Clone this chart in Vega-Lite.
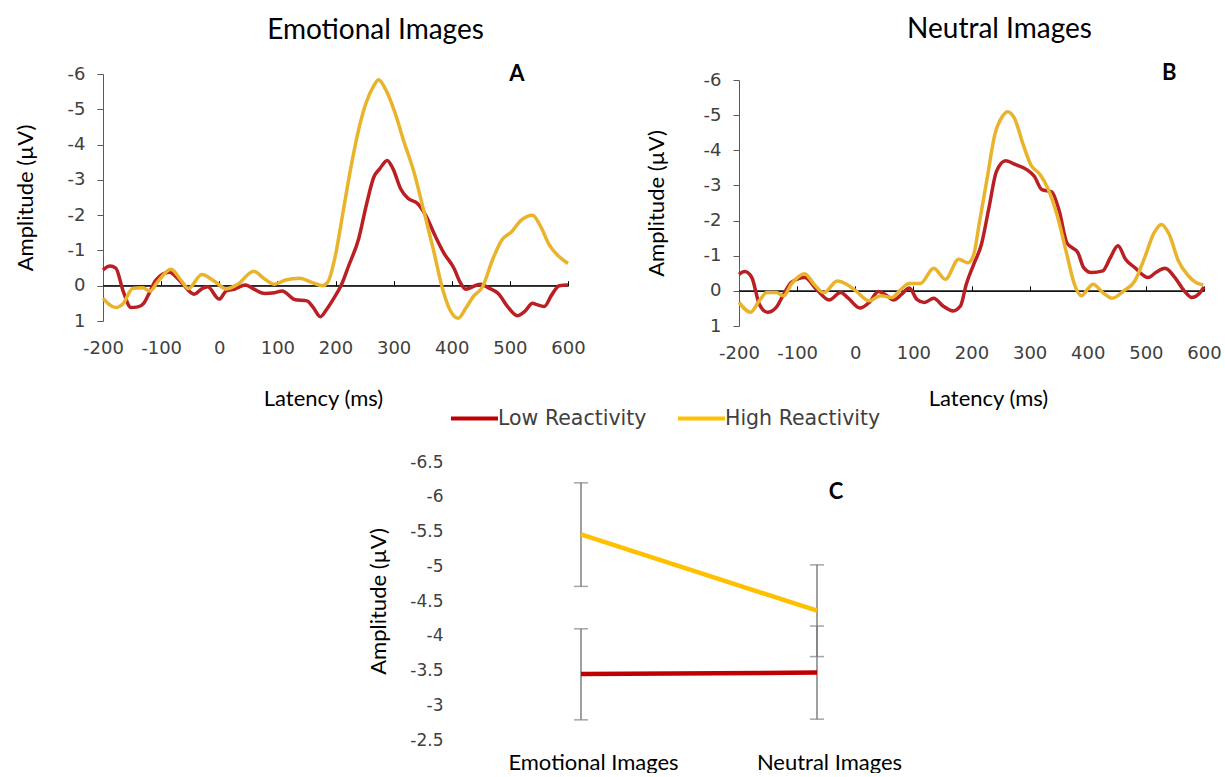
{
"$schema": "https://vega.github.io/schema/vega-lite/v6.json",
"background": "white",
"padding": {"left": 13, "top": 15, "right": 0, "bottom": 0},
"config": {"view": {"stroke": null}, "title": {"font": "Lato", "fontSize": 28, "fontWeight": "normal", "color": "#000000"}},
"datasets": {
"erp": [
{"p":"A","g":"Low Reactivity","t":-200,"v":-0.45},{"p":"A","g":"Low Reactivity","t":-188,"v":-0.56},{"p":"A","g":"Low Reactivity","t":-178,"v":-0.5},{"p":"A","g":"Low Reactivity","t":-165,"v":0.17},{"p":"A","g":"Low Reactivity","t":-152,"v":0.62},{"p":"A","g":"Low Reactivity","t":-140,"v":0.6},{"p":"A","g":"Low Reactivity","t":-130,"v":0.5},{"p":"A","g":"Low Reactivity","t":-122,"v":0.26},{"p":"A","g":"Low Reactivity","t":-109,"v":-0.16},{"p":"A","g":"Low Reactivity","t":-86,"v":-0.38},{"p":"A","g":"Low Reactivity","t":-66,"v":-0.11},{"p":"A","g":"Low Reactivity","t":-43,"v":0.24},{"p":"A","g":"Low Reactivity","t":-30,"v":0.09},{"p":"A","g":"Low Reactivity","t":-20,"v":0.03},{"p":"A","g":"Low Reactivity","t":0,"v":0.38},{"p":"A","g":"Low Reactivity","t":12,"v":0.15},{"p":"A","g":"Low Reactivity","t":26,"v":0.1},{"p":"A","g":"Low Reactivity","t":45,"v":-0.02},{"p":"A","g":"Low Reactivity","t":58,"v":0.08},{"p":"A","g":"Low Reactivity","t":78,"v":0.22},{"p":"A","g":"Low Reactivity","t":95,"v":0.2},{"p":"A","g":"Low Reactivity","t":108,"v":0.15},{"p":"A","g":"Low Reactivity","t":131,"v":0.4},{"p":"A","g":"Low Reactivity","t":151,"v":0.43},{"p":"A","g":"Low Reactivity","t":161,"v":0.6},{"p":"A","g":"Low Reactivity","t":174,"v":0.88},{"p":"A","g":"Low Reactivity","t":184,"v":0.69},{"p":"A","g":"Low Reactivity","t":197,"v":0.36},{"p":"A","g":"Low Reactivity","t":210,"v":-0.02},{"p":"A","g":"Low Reactivity","t":223,"v":-0.58},{"p":"A","g":"Low Reactivity","t":240,"v":-1.34},{"p":"A","g":"Low Reactivity","t":253,"v":-2.28},{"p":"A","g":"Low Reactivity","t":266,"v":-3.08},{"p":"A","g":"Low Reactivity","t":276,"v":-3.31},{"p":"A","g":"Low Reactivity","t":289,"v":-3.55},{"p":"A","g":"Low Reactivity","t":299,"v":-3.31},{"p":"A","g":"Low Reactivity","t":312,"v":-2.75},{"p":"A","g":"Low Reactivity","t":325,"v":-2.47},{"p":"A","g":"Low Reactivity","t":341,"v":-2.33},{"p":"A","g":"Low Reactivity","t":355,"v":-2.0},{"p":"A","g":"Low Reactivity","t":371,"v":-1.43},{"p":"A","g":"Low Reactivity","t":387,"v":-0.91},{"p":"A","g":"Low Reactivity","t":404,"v":-0.49},{"p":"A","g":"Low Reactivity","t":414,"v":-0.11},{"p":"A","g":"Low Reactivity","t":424,"v":0.1},{"p":"A","g":"Low Reactivity","t":440,"v":0.0},{"p":"A","g":"Low Reactivity","t":450,"v":-0.04},{"p":"A","g":"Low Reactivity","t":463,"v":0.06},{"p":"A","g":"Low Reactivity","t":480,"v":0.22},{"p":"A","g":"Low Reactivity","t":496,"v":0.59},{"p":"A","g":"Low Reactivity","t":513,"v":0.85},{"p":"A","g":"Low Reactivity","t":526,"v":0.72},{"p":"A","g":"Low Reactivity","t":539,"v":0.5},{"p":"A","g":"Low Reactivity","t":545,"v":0.53},{"p":"A","g":"Low Reactivity","t":559,"v":0.59},{"p":"A","g":"Low Reactivity","t":572,"v":0.26},{"p":"A","g":"Low Reactivity","t":585,"v":0.0},{"p":"A","g":"Low Reactivity","t":600,"v":-0.02},
{"p":"A","g":"High Reactivity","t":-200,"v":0.36},{"p":"A","g":"High Reactivity","t":-178,"v":0.62},{"p":"A","g":"High Reactivity","t":-165,"v":0.5},{"p":"A","g":"High Reactivity","t":-149,"v":0.08},{"p":"A","g":"High Reactivity","t":-132,"v":0.06},{"p":"A","g":"High Reactivity","t":-119,"v":0.15},{"p":"A","g":"High Reactivity","t":-106,"v":-0.11},{"p":"A","g":"High Reactivity","t":-83,"v":-0.47},{"p":"A","g":"High Reactivity","t":-66,"v":-0.16},{"p":"A","g":"High Reactivity","t":-53,"v":0.08},{"p":"A","g":"High Reactivity","t":-30,"v":-0.32},{"p":"A","g":"High Reactivity","t":-7,"v":-0.11},{"p":"A","g":"High Reactivity","t":12,"v":0.09},{"p":"A","g":"High Reactivity","t":32,"v":-0.04},{"p":"A","g":"High Reactivity","t":59,"v":-0.41},{"p":"A","g":"High Reactivity","t":78,"v":-0.19},{"p":"A","g":"High Reactivity","t":95,"v":-0.04},{"p":"A","g":"High Reactivity","t":114,"v":-0.16},{"p":"A","g":"High Reactivity","t":138,"v":-0.21},{"p":"A","g":"High Reactivity","t":157,"v":-0.11},{"p":"A","g":"High Reactivity","t":177,"v":0.0},{"p":"A","g":"High Reactivity","t":187,"v":-0.11},{"p":"A","g":"High Reactivity","t":200,"v":-0.87},{"p":"A","g":"High Reactivity","t":213,"v":-2.09},{"p":"A","g":"High Reactivity","t":226,"v":-3.31},{"p":"A","g":"High Reactivity","t":240,"v":-4.44},{"p":"A","g":"High Reactivity","t":253,"v":-5.2},{"p":"A","g":"High Reactivity","t":266,"v":-5.67},{"p":"A","g":"High Reactivity","t":274,"v":-5.84},{"p":"A","g":"High Reactivity","t":286,"v":-5.57},{"p":"A","g":"High Reactivity","t":302,"v":-4.92},{"p":"A","g":"High Reactivity","t":318,"v":-4.07},{"p":"A","g":"High Reactivity","t":335,"v":-3.22},{"p":"A","g":"High Reactivity","t":351,"v":-2.18},{"p":"A","g":"High Reactivity","t":368,"v":-1.05},{"p":"A","g":"High Reactivity","t":384,"v":0.08},{"p":"A","g":"High Reactivity","t":397,"v":0.69},{"p":"A","g":"High Reactivity","t":411,"v":0.92},{"p":"A","g":"High Reactivity","t":424,"v":0.64},{"p":"A","g":"High Reactivity","t":437,"v":0.31},{"p":"A","g":"High Reactivity","t":453,"v":0.03},{"p":"A","g":"High Reactivity","t":470,"v":-0.73},{"p":"A","g":"High Reactivity","t":486,"v":-1.29},{"p":"A","g":"High Reactivity","t":503,"v":-1.53},{"p":"A","g":"High Reactivity","t":519,"v":-1.85},{"p":"A","g":"High Reactivity","t":539,"v":-2.0},{"p":"A","g":"High Reactivity","t":552,"v":-1.71},{"p":"A","g":"High Reactivity","t":568,"v":-1.15},{"p":"A","g":"High Reactivity","t":585,"v":-0.82},{"p":"A","g":"High Reactivity","t":600,"v":-0.63},
{"p":"B","g":"Low Reactivity","t":-200,"v":-0.47},{"p":"B","g":"Low Reactivity","t":-190,"v":-0.55},{"p":"B","g":"Low Reactivity","t":-178,"v":-0.38},{"p":"B","g":"Low Reactivity","t":-165,"v":0.38},{"p":"B","g":"Low Reactivity","t":-151,"v":0.61},{"p":"B","g":"Low Reactivity","t":-136,"v":0.47},{"p":"B","g":"Low Reactivity","t":-123,"v":0.09},{"p":"B","g":"Low Reactivity","t":-110,"v":-0.24},{"p":"B","g":"Low Reactivity","t":-87,"v":-0.38},{"p":"B","g":"Low Reactivity","t":-67,"v":-0.05},{"p":"B","g":"Low Reactivity","t":-45,"v":0.26},{"p":"B","g":"Low Reactivity","t":-25,"v":0.05},{"p":"B","g":"Low Reactivity","t":-12,"v":0.21},{"p":"B","g":"Low Reactivity","t":8,"v":0.49},{"p":"B","g":"Low Reactivity","t":24,"v":0.33},{"p":"B","g":"Low Reactivity","t":40,"v":0.02},{"p":"B","g":"Low Reactivity","t":53,"v":0.12},{"p":"B","g":"Low Reactivity","t":66,"v":0.26},{"p":"B","g":"Low Reactivity","t":80,"v":0.09},{"p":"B","g":"Low Reactivity","t":93,"v":-0.08},{"p":"B","g":"Low Reactivity","t":106,"v":0.24},{"p":"B","g":"Low Reactivity","t":119,"v":0.33},{"p":"B","g":"Low Reactivity","t":135,"v":0.21},{"p":"B","g":"Low Reactivity","t":151,"v":0.43},{"p":"B","g":"Low Reactivity","t":168,"v":0.57},{"p":"B","g":"Low Reactivity","t":181,"v":0.43},{"p":"B","g":"Low Reactivity","t":191,"v":-0.19},{"p":"B","g":"Low Reactivity","t":204,"v":-0.76},{"p":"B","g":"Low Reactivity","t":217,"v":-1.32},{"p":"B","g":"Low Reactivity","t":230,"v":-2.36},{"p":"B","g":"Low Reactivity","t":243,"v":-3.4},{"p":"B","g":"Low Reactivity","t":259,"v":-3.7},{"p":"B","g":"Low Reactivity","t":276,"v":-3.59},{"p":"B","g":"Low Reactivity","t":295,"v":-3.45},{"p":"B","g":"Low Reactivity","t":308,"v":-3.26},{"p":"B","g":"Low Reactivity","t":321,"v":-2.88},{"p":"B","g":"Low Reactivity","t":338,"v":-2.82},{"p":"B","g":"Low Reactivity","t":351,"v":-2.27},{"p":"B","g":"Low Reactivity","t":364,"v":-1.37},{"p":"B","g":"Low Reactivity","t":373,"v":-1.23},{"p":"B","g":"Low Reactivity","t":383,"v":-1.09},{"p":"B","g":"Low Reactivity","t":393,"v":-0.66},{"p":"B","g":"Low Reactivity","t":406,"v":-0.52},{"p":"B","g":"Low Reactivity","t":426,"v":-0.57},{"p":"B","g":"Low Reactivity","t":439,"v":-0.95},{"p":"B","g":"Low Reactivity","t":452,"v":-1.28},{"p":"B","g":"Low Reactivity","t":465,"v":-0.9},{"p":"B","g":"Low Reactivity","t":481,"v":-0.66},{"p":"B","g":"Low Reactivity","t":504,"v":-0.38},{"p":"B","g":"Low Reactivity","t":517,"v":-0.52},{"p":"B","g":"Low Reactivity","t":533,"v":-0.64},{"p":"B","g":"Low Reactivity","t":550,"v":-0.38},{"p":"B","g":"Low Reactivity","t":566,"v":0.0},{"p":"B","g":"Low Reactivity","t":579,"v":0.19},{"p":"B","g":"Low Reactivity","t":591,"v":0.09},{"p":"B","g":"Low Reactivity","t":600,"v":-0.11},
{"p":"B","g":"High Reactivity","t":-200,"v":0.33},{"p":"B","g":"High Reactivity","t":-180,"v":0.61},{"p":"B","g":"High Reactivity","t":-165,"v":0.28},{"p":"B","g":"High Reactivity","t":-152,"v":0.05},{"p":"B","g":"High Reactivity","t":-136,"v":0.05},{"p":"B","g":"High Reactivity","t":-123,"v":0.14},{"p":"B","g":"High Reactivity","t":-110,"v":-0.19},{"p":"B","g":"High Reactivity","t":-87,"v":-0.49},{"p":"B","g":"High Reactivity","t":-71,"v":-0.19},{"p":"B","g":"High Reactivity","t":-54,"v":0.05},{"p":"B","g":"High Reactivity","t":-31,"v":-0.28},{"p":"B","g":"High Reactivity","t":-15,"v":-0.19},{"p":"B","g":"High Reactivity","t":1,"v":0.0},{"p":"B","g":"High Reactivity","t":24,"v":0.28},{"p":"B","g":"High Reactivity","t":44,"v":0.14},{"p":"B","g":"High Reactivity","t":63,"v":0.19},{"p":"B","g":"High Reactivity","t":76,"v":0.0},{"p":"B","g":"High Reactivity","t":93,"v":-0.21},{"p":"B","g":"High Reactivity","t":112,"v":-0.21},{"p":"B","g":"High Reactivity","t":135,"v":-0.64},{"p":"B","g":"High Reactivity","t":155,"v":-0.33},{"p":"B","g":"High Reactivity","t":178,"v":-0.9},{"p":"B","g":"High Reactivity","t":194,"v":-0.8},{"p":"B","g":"High Reactivity","t":204,"v":-1.04},{"p":"B","g":"High Reactivity","t":213,"v":-1.89},{"p":"B","g":"High Reactivity","t":227,"v":-3.21},{"p":"B","g":"High Reactivity","t":240,"v":-4.44},{"p":"B","g":"High Reactivity","t":253,"v":-4.96},{"p":"B","g":"High Reactivity","t":262,"v":-5.1},{"p":"B","g":"High Reactivity","t":274,"v":-4.91},{"p":"B","g":"High Reactivity","t":289,"v":-4.16},{"p":"B","g":"High Reactivity","t":302,"v":-3.59},{"p":"B","g":"High Reactivity","t":318,"v":-3.31},{"p":"B","g":"High Reactivity","t":331,"v":-2.93},{"p":"B","g":"High Reactivity","t":347,"v":-2.17},{"p":"B","g":"High Reactivity","t":364,"v":-1.04},{"p":"B","g":"High Reactivity","t":377,"v":-0.19},{"p":"B","g":"High Reactivity","t":389,"v":0.14},{"p":"B","g":"High Reactivity","t":400,"v":-0.05},{"p":"B","g":"High Reactivity","t":409,"v":-0.19},{"p":"B","g":"High Reactivity","t":426,"v":0.05},{"p":"B","g":"High Reactivity","t":442,"v":0.21},{"p":"B","g":"High Reactivity","t":462,"v":0.0},{"p":"B","g":"High Reactivity","t":481,"v":-0.28},{"p":"B","g":"High Reactivity","t":498,"v":-0.95},{"p":"B","g":"High Reactivity","t":514,"v":-1.65},{"p":"B","g":"High Reactivity","t":527,"v":-1.89},{"p":"B","g":"High Reactivity","t":540,"v":-1.61},{"p":"B","g":"High Reactivity","t":556,"v":-0.85},{"p":"B","g":"High Reactivity","t":573,"v":-0.43},{"p":"B","g":"High Reactivity","t":586,"v":-0.24},{"p":"B","g":"High Reactivity","t":599,"v":-0.17}
],
"means": [
{"cond":"Emotional Images","g":"Low Reactivity","m":-3.45,"lo":-4.1,"hi":-2.79},
{"cond":"Neutral Images","g":"Low Reactivity","m":-3.47,"lo":-4.14,"hi":-2.8},
{"cond":"Emotional Images","g":"High Reactivity","m":-5.46,"lo":-6.2,"hi":-4.71},
{"cond":"Neutral Images","g":"High Reactivity","m":-4.36,"lo":-5.02,"hi":-3.7}
]
},
"spacing": -16,
"vconcat": [
{
"spacing": 58,
"hconcat": [
{
"width": 465, "height": 247,
"title": {"text": "Emotional Images", "anchor": "middle", "dx": 40, "offset": 18},
"resolve": {"axis": {"x": "independent"}},
"layer": [
{"data": {"values": [{}]},
 "mark": {"type": "rule", "color": "#000000", "strokeWidth": 1},
 "encoding": {
  "x": {"datum": -200, "type": "quantitative", "scale": {"domain": [-200, 600], "nice": false, "zero": false},
        "axis": {"orient": "top", "offset": -211.7, "labels": false, "title": null, "grid": false, "domain": true, "domainColor": "#000000", "ticks": true, "tickSize": 5, "tickColor": "#000000", "tickCount": 20, "values": [-200,-100,0,100,200,300,400,500,600]}},
  "x2": {"datum": 600},
  "y": {"datum": 0, "type": "quantitative"}}},
{"data": {"name": "erp"}, "transform": [{"filter": "datum.p === 'A'"}],
 "mark": {"type": "line", "interpolate": "monotone", "strokeWidth": 3.5},
 "encoding": {
  "x": {"field": "t", "type": "quantitative",
        "axis": {"orient": "bottom", "values": [-200,-100,0,100,200,300,400,500,600], "tickCount": 20, "format": "d", "domain": false, "ticks": false, "grid": false, "labelFlush": false, "labelOverlap": false, "labelPadding": 18, "labelFont": "DejaVu Sans", "labelFontSize": 18, "labelColor": "#404040", "labelExpr": "replace(datum.label, '\u2212', '-')", "title": "Latency (ms)", "titleFont": "Lato", "titleFontSize": 22, "titleFontWeight": "normal", "titleColor": "#000000", "titleX": 220, "titleY": 77, "titleBaseline": "middle"}},
  "y": {"field": "v", "type": "quantitative", "scale": {"domain": [1, -6], "nice": false, "zero": false},
        "axis": {"values": [-6,-5,-4,-3,-2,-1,0,1], "tickCount": 20, "format": "~g", "labelOverlap": false, "grid": false, "domainColor": "#595959", "tickColor": "#595959", "tickSize": 6, "labelPadding": 12, "labelFont": "DejaVu Sans", "labelFontSize": 18, "labelColor": "#404040", "labelExpr": "replace(datum.label, '\u2212', '-')", "title": "Amplitude (µV)", "titleFont": "Lato", "titleFontSize": 22, "titleFontWeight": "normal", "titleColor": "#000000", "titleX": -78, "titleBaseline": "middle"}},
  "color": {"field": "g", "type": "nominal", "scale": {"domain": ["Low Reactivity", "High Reactivity"], "range": ["#BA1F24", "#E9B42B"]}, "legend": null}}},
{"data": {"values": [{}]},
 "mark": {"type": "text", "text": "A", "font": "Lato", "fontSize": 22, "fontWeight": "bold", "color": "#000000", "align": "center", "baseline": "middle"},
 "encoding": {"x": {"datum": 512, "type": "quantitative", "axis": null}, "y": {"datum": -6, "type": "quantitative"}}}
]
},
{
"width": 465, "height": 252,
"title": {"text": "Neutral Images", "anchor": "middle", "dx": 28, "offset": 18},
"resolve": {"axis": {"x": "independent"}},
"layer": [
{"data": {"values": [{}]},
 "mark": {"type": "rule", "color": "#000000", "strokeWidth": 1},
 "encoding": {
  "x": {"datum": -200, "type": "quantitative", "scale": {"domain": [-200, 600], "nice": false, "zero": false},
        "axis": {"orient": "top", "offset": -216.9, "labels": false, "title": null, "grid": false, "domain": true, "domainColor": "#000000", "ticks": true, "tickSize": 5, "tickColor": "#000000", "tickCount": 20, "values": [-200,-100,0,100,200,300,400,500,600]}},
  "x2": {"datum": 600},
  "y": {"datum": 0, "type": "quantitative"}}},
{"data": {"name": "erp"}, "transform": [{"filter": "datum.p === 'B'"}],
 "mark": {"type": "line", "interpolate": "monotone", "strokeWidth": 3.5},
 "encoding": {
  "x": {"field": "t", "type": "quantitative",
        "axis": {"orient": "bottom", "values": [-200,-100,0,100,200,300,400,500,600], "tickCount": 20, "format": "d", "domain": false, "ticks": false, "grid": false, "labelFlush": false, "labelOverlap": false, "labelPadding": 18, "labelFont": "DejaVu Sans", "labelFontSize": 18, "labelColor": "#404040", "labelExpr": "replace(datum.label, '\u2212', '-')", "title": "Latency (ms)", "titleFont": "Lato", "titleFontSize": 22, "titleFontWeight": "normal", "titleColor": "#000000", "titleX": 249, "titleY": 72, "titleBaseline": "middle"}},
  "y": {"field": "v", "type": "quantitative", "scale": {"domain": [1, -6], "range": [252, 6], "nice": false, "zero": false},
        "axis": {"values": [-6,-5,-4,-3,-2,-1,0,1], "tickCount": 20, "format": "~g", "labelOverlap": false, "grid": false, "domainColor": "#595959", "tickColor": "#595959", "tickSize": 6, "labelPadding": 12, "labelFont": "DejaVu Sans", "labelFontSize": 18, "labelColor": "#404040", "labelExpr": "replace(datum.label, '\u2212', '-')", "title": "Amplitude (µV)", "titleFont": "Lato", "titleFontSize": 22, "titleFontWeight": "normal", "titleColor": "#000000", "titleX": -83, "titleBaseline": "middle"}},
  "color": {"field": "g", "type": "nominal", "scale": {"domain": ["Low Reactivity", "High Reactivity"], "range": ["#BA1F24", "#E9B42B"]}, "legend": null}}},
{"data": {"values": [{}]},
 "mark": {"type": "text", "text": "B", "font": "Lato", "fontSize": 22, "fontWeight": "bold", "color": "#000000", "align": "center", "baseline": "middle"},
 "encoding": {"x": {"datum": 540, "type": "quantitative", "axis": null}, "y": {"datum": -6.2, "type": "quantitative"}}}
]
}
]
},
{
"width": 900, "height": 278,
"data": {"name": "means"},
"layer": [
{"mark": {"type": "rule", "color": "#7F7F7F", "strokeWidth": 1.5},
 "encoding": {
  "x": {"field": "cond", "type": "nominal", "sort": ["Emotional Images", "Neutral Images"], "scale": {"type": "point", "range": [478, 714], "padding": 0},
        "axis": {"title": null, "domain": false, "ticks": false, "grid": false, "labelAngle": 0, "labelFont": "Lato", "labelFontSize": 22, "labelColor": "#000000", "labelPadding": 12, "labelOffset": 12}},
  "y": {"field": "lo", "type": "quantitative", "scale": {"domain": [-2.5, -6.5], "nice": false, "zero": false},
        "axis": {"offset": -360, "values": [-6.5,-6,-5.5,-5,-4.5,-4,-3.5,-3,-2.5], "tickCount": 20, "format": "~g", "labelOverlap": false, "domain": false, "ticks": false, "grid": false, "labelPadding": 20, "labelFont": "DejaVu Sans", "labelFontSize": 17, "labelColor": "#404040", "labelExpr": "replace(datum.label, '\u2212', '-')", "title": "Amplitude (µV)", "titleFont": "Lato", "titleFontSize": 22, "titleFontWeight": "normal", "titleColor": "#000000", "titleX": -85, "titleBaseline": "middle"}},
  "y2": {"field": "hi"}}},
{"mark": {"type": "tick", "color": "#7F7F7F", "thickness": 1.5, "size": 14},
 "encoding": {"x": {"field": "cond", "type": "nominal", "sort": ["Emotional Images", "Neutral Images"]}, "y": {"field": "lo", "type": "quantitative"}}},
{"mark": {"type": "tick", "color": "#7F7F7F", "thickness": 1.5, "size": 14},
 "encoding": {"x": {"field": "cond", "type": "nominal", "sort": ["Emotional Images", "Neutral Images"]}, "y": {"field": "hi", "type": "quantitative"}}},
{"mark": {"type": "line", "strokeWidth": 4.5},
 "encoding": {
  "x": {"field": "cond", "type": "nominal", "sort": ["Emotional Images", "Neutral Images"]},
  "y": {"field": "m", "type": "quantitative"},
  "color": {"field": "g", "type": "nominal", "scale": {"domain": ["Low Reactivity", "High Reactivity"], "range": ["#C00000", "#FFC000"]},
            "legend": {"orient": "none", "legendX": 346, "legendY": -69, "direction": "horizontal", "title": null, "symbolType": "stroke", "symbolSize": 2209, "symbolStrokeWidth": 4, "labelFont": "DejaVu Sans", "labelFontSize": 20.5, "labelColor": "#404040", "labelOffset": -2, "columnPadding": 23}}}},
{"data": {"values": [{}]},
 "mark": {"type": "text", "text": "C", "font": "Lato", "fontSize": 22, "fontWeight": "bold", "color": "#000000", "align": "center", "baseline": "middle", "dx": 19},
 "encoding": {"x": {"datum": "Neutral Images", "type": "nominal"}, "y": {"datum": -6.07, "type": "quantitative"}}}
]
}
],
"resolve": {"scale": {"color": "independent"}, "legend": {"color": "independent"}}
}
